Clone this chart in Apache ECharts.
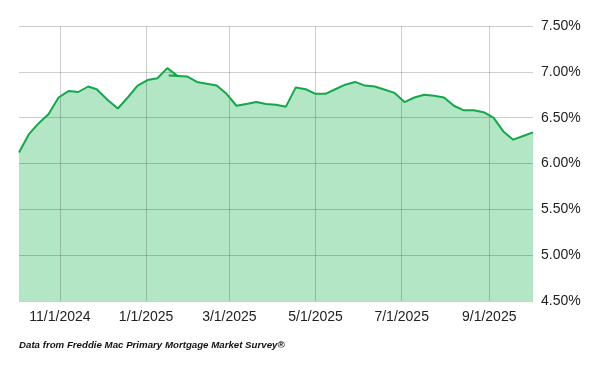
<!DOCTYPE html>
<html><head><meta charset="utf-8">
<script src="https://cdn.jsdelivr.net/npm/echarts@6/dist/echarts.min.js"></script>
<style>html,body{margin:0;padding:0;background:#fff}#c{width:600px;height:371px}</style>
</head><body><div id="c"></div>
<script>
// Weekly dates (as drawn, in drawing order) and 30-yr rates (%)
const dates = ['2024-10-03','2024-10-10','2024-10-17','2024-10-24','2024-10-31','2024-11-07','2024-11-14','2024-11-21','2024-11-27','2024-12-05','2024-12-12','2024-12-19','2024-12-26','2025-01-02','2025-01-09','2025-01-16','2025-01-23','2025-01-17','2025-01-30','2025-02-06','2025-02-13','2025-02-20','2025-02-27','2025-03-06','2025-03-13','2025-03-20','2025-03-27','2025-04-03','2025-04-10','2025-04-17','2025-04-24','2025-05-01','2025-05-08','2025-05-15','2025-05-22','2025-05-29','2025-06-05','2025-06-12','2025-06-18','2025-06-26','2025-07-03','2025-07-10','2025-07-17','2025-07-24','2025-07-31','2025-08-07','2025-08-14','2025-08-21','2025-08-28','2025-09-04','2025-09-11','2025-09-18','2025-09-25','2025-10-02'];
const rates = [6.12,6.32,6.44,6.54,6.72,6.79,6.78,6.84,6.81,6.69,6.60,6.72,6.85,6.91,6.93,7.04,6.96,6.96,6.95,6.89,6.87,6.85,6.76,6.63,6.65,6.67,6.65,6.64,6.62,6.83,6.81,6.76,6.76,6.81,6.86,6.89,6.85,6.84,6.81,6.77,6.67,6.72,6.75,6.74,6.72,6.63,6.58,6.58,6.56,6.50,6.35,6.26,6.30,6.34];
const xTickDates = ['2024-11-01','2025-01-01','2025-03-01','2025-05-01','2025-07-01','2025-09-01'];
const yMin = 4.5, yMax = 7.5, yStep = 0.5;
const footnote = 'Data from Freddie Mac Primary Mortgage Market Survey®';

function ts(s){const p=s.split('-').map(Number);return new Date(p[0],p[1]-1,p[2]).getTime();}
const pts = dates.map((d,i)=>[ts(d), rates[i]]);
const xMin = Math.min(...pts.map(p=>p[0])), xMax = Math.max(...pts.map(p=>p[0]));
const tickTs = xTickDates.map(ts);
const gridCol = 'rgba(0,0,0,0.19)';
const font = '"Liberation Sans", Arial, sans-serif';

const chart = echarts.init(document.getElementById('c'), null, {renderer:'canvas'});
chart.setOption({
  animation:false,
  backgroundColor:'#fff',
  grid:{left:19,right:67,top:26,bottom:70,containLabel:false},
  xAxis:{type:'value',min:xMin,max:xMax,
    axisLine:{show:false},axisTick:{show:false},splitLine:{show:false},
    axisLabel:{customValues:tickTs,showMinLabel:true,showMaxLabel:true,margin:9,fontSize:14,fontFamily:font,color:'#222',
      formatter:v=>{const d=new Date(v);return (d.getMonth()+1)+'/'+d.getDate()+'/'+d.getFullYear();}}},
  yAxis:{type:'value',position:'right',min:yMin,max:yMax,interval:yStep,
    axisLine:{show:false},axisTick:{show:false},
    splitLine:{show:true,lineStyle:{color:gridCol,width:1}},
    axisLabel:{margin:8,fontSize:14,fontFamily:font,color:'#222',formatter:v=>v.toFixed(2)+'%'}},
  series:[
    {type:'line',data:pts,z:-1,showSymbol:false,symbol:'none',
      lineStyle:{width:0},areaStyle:{color:'#b2e6c5',opacity:1}},
    {type:'line',data:pts,z:3,showSymbol:false,symbol:'none',
      lineStyle:{width:2,color:'#13a84a'},
      markLine:{silent:true,symbol:'none',z:1,label:{show:false},
        lineStyle:{type:'solid',color:gridCol,width:1},
        data:tickTs.map(t=>({xAxis:t}))}}
  ],
  graphic:[{type:'text',left:19,top:340,style:{text:footnote,font:'italic bold 9.7px '+font,fill:'#111'}}]
});
</script></body></html>
